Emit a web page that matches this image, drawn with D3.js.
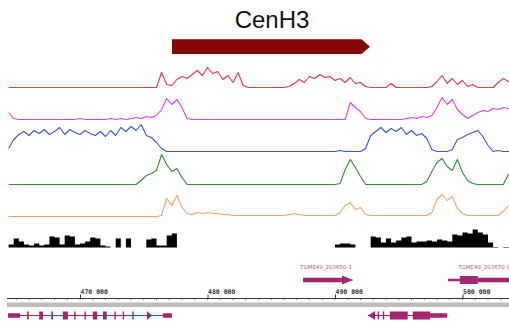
<!DOCTYPE html>
<html><head><meta charset="utf-8">
<script src="https://cdn.jsdelivr.net/npm/d3@7"></script>
<style>body{margin:0;background:#fff}svg{display:block}</style>
</head><body>
<script>
// ---- data ----
const title = "CenH3";
const binStart = 464400, binSize = 400; // genomic bins (bp)
const redSignal = [0,0,0,0,0,0,0,0,0,0,0,0,0,0,0,0,0,0,0,0,0,0,0,0,0,0,0,0,0,0,
  15,3,2,8,11,9,13,17,12,20,14,16,8,12,5,15,2,0,0,0,0,0,0,0,0,1,4,8,5,11,9,13,10,11,7,9,5,10,4,5,1,0,0,0,0,4,0,0,0,0,0,0,0,1,6,12,4,9,3,7,1,3,0,0,0,0,5,9,6,6];
const magentaSignal = [7,1,0,0,0,0,0,0,0,0,0,0,0,0,1,0,0,0,0,0,1,0,1,0,1,2,1,3,2,4,
  10,21,15,20,12,1,0,0,0,0,0,0,0,0,0,0,0,0,0,0,0,0,0,0,0,0,0,0,0,0,0,0,0,0,0,0,0,17,12,8,1,0,0,0,0,0,0,0,1,2,1,3,2,4,12,22,15,20,10,5,1,4,7,9,8,11,10,12,11,11];
const blueSignal = [3,12,17,20,16,21,18,22,17,20,24,17,22,19,17,21,18,16,20,15,21,16,24,20,25,21,27,16,14,9,
  3,0,0,0,0,0,0,0,0,0,0,0,0,0,0,0,0,0,0,0,0,0,0,0,0,0,0,0,0,0,0,0,0,0,0,1,0,0,0,0,3,16,20,24,19,23,20,24,17,21,16,18,13,2,0,0,0,2,12,14,17,19,21,15,6,0,1,0,0,0];
const greenSignal = [0,0,0,0,0,0,0,0,0,0,0,0,0,0,0,0,0,0,0,0,0,0,0,0,0,0,4,9,11,14,
  30,20,13,16,7,0,0,0,0,0,0,0,0,0,0,0,0,0,0,0,0,0,0,0,0,0,0,0,0,0,0,0,0,0,0,1,15,25,17,8,0,0,0,0,0,0,0,0,0,0,0,0,3,13,22,26,18,14,25,12,4,1,0,0,0,0,0,0,10,10];
const orangeSignal = [0,0,0,0,0,0,0,0,0,0,0,0,0,0,0,0,0,0,0,0,0,0,0,0,0,0,0,0,0,0,
  1,18,11,21,9,3,2,4,3,4,3,3,2,2,1,1,1,1,1,1,1,1,1,1,1,2,3,2,1,1,1,1,1,1,1,4,11,14,7,9,2,1,1,1,1,1,1,1,1,1,1,1,1,4,17,22,16,20,8,3,1,1,1,1,1,1,1,5,11,11];
const coverage = [3,9,6,3,2,4,2,3,11,10,3,12,11,3,4,6,10,9,2,1,0,9,0,9,0,0,0,8,9,2,
  2,12,14,0,0,0,0,0,0,0,0,0,0,0,0,0,0,0,0,0,0,0,0,0,0,0,0,0,0,0,0,0,0,0,3,4,4,3,0,0,0,11,10,5,9,5,7,10,11,5,6,6,7,6,8,7,6,13,12,15,14,18,15,13,5,0.5,0,0.5,0,0];
const cenh3Domain = [477216, 492745];
const tickValues = [470000, 480000, 490000, 500000];
const tickLabels = ["470 000", "480 000", "490 000", "500 000"];
const topGeneNames = ["TGME49_203650-1", "TGME49_203670-1"];
// gene parts: [start, end, kind]  kind: cds (tall), utr (short), arrowR, arrowL
const topGene1 = [[487500, 490550, "utr"], [490550, 491400, "arrowR"]];
const topGene2 = [[498860, 499800, "thin"], [499800, 501200, "cds"], [501200, 503800, "utr"]];
const bottomGene1 = [[464350, 465300, "utr"], [465850, 465980, "cds"], [466800, 467100, "cds"], [467750, 467880, "cds"],
  [468650, 469050, "cds"], [469550, 469660, "cds"], [470350, 470460, "cds"], [471000, 471350, "cds"], [471800, 472100, "cds"],
  [472700, 472810, "cds"], [473350, 473460, "cds"], [474100, 474210, "cds"], [475250, 475650, "arrowR"], [476500, 477200, "utr"]];
const bottomGene2 = [[492590, 493140, "arrowL"], [493350, 493460, "cds"], [493750, 493860, "cds"], [494300, 495700, "cds"],
  [496100, 497450, "cds"], [497450, 498800, "utr"]];

// ---- drawing ----
const W = 509, H = 327;
const svg = d3.select("body").append("svg").attr("width", W).attr("height", H);
const x = d3.scaleLinear().domain([470000, 500000]).range([80, 462.5]);
const binPos = redSignal.map((_, i) => binStart + i * binSize);

svg.append("text").attr("x", 272).attr("y", 28).attr("text-anchor", "middle")
  .attr("font-family", "Liberation Sans, Arial, sans-serif").attr("font-size", 24).attr("fill", "#111").text(title);

// CenH3 domain arrow bar
{
  const x0 = x(cenh3Domain[0]), x1 = x(cenh3Domain[1]), y0 = 39.3, y1 = 54;
  const tip = 8.5;
  svg.append("path").attr("fill", "#820808")
    .attr("d", `M${x0},${y0}L${x1 - tip},${y0}L${x1},${(y0 + y1) / 2}L${x1 - tip},${y1}L${x0},${y1}Z`);
}

const tracks = [
  {vals: redSignal, base: 87.5, color: "#e8363e"},
  {vals: magentaSignal, base: 119.5, color: "#df3ddf"},
  {vals: blueSignal, base: 151.5, color: "#3a58c8"},
  {vals: greenSignal, base: 184.5, color: "#2f8a3c"},
  {vals: orangeSignal, base: 216.5, color: "#f2a26a"},
];
const yAmp = d3.scaleLinear().domain([0, 32]).range([0, 32]);
tracks.forEach(t => {
  const line = d3.line().x((d, i) => x(binPos[i])).y(d => t.base - yAmp(d)).curve(d3.curveLinear);
  svg.append("path").datum(t.vals).attr("fill", "none").attr("stroke", t.color).attr("stroke-width", 1.1)
    .attr("stroke-linejoin", "round").attr("d", line);
});

// coverage area
const covBase = 247.5;
const area = d3.area().x((d, i) => x(binPos[i])).y0(covBase).y1(d => covBase - yAmp(d)).curve(d3.curveStepAfter);
svg.append("path").datum(coverage).attr("fill", "#000").attr("d", area);

const geneColor = "#a1256f";
function drawGene(parts, cy) {
  const g = svg.append("g");
  const s = d3.min(parts, p => p[0]), e = d3.max(parts, p => p[1]);
  g.append("line").attr("x1", x(s)).attr("x2", Math.min(x(e), W)).attr("y1", cy).attr("y2", cy)
    .attr("stroke", geneColor).attr("stroke-width", 1);
  parts.forEach(([a, b, k]) => {
    const xa = x(a), xb = x(b);
    if (k === "cds" || k === "utr" || k === "thin") {
      const h = k === "cds" ? 8 : (k === "utr" ? 4.5 : 2.5);
      g.append("rect").attr("x", xa).attr("y", cy - h / 2).attr("width", Math.max(1.2, xb - xa)).attr("height", h).attr("fill", geneColor);
    } else if (k === "arrowR") {
      g.append("path").attr("fill", geneColor).attr("d", `M${xa},${cy - 4.5}L${xb},${cy}L${xa},${cy + 4.5}Z`);
    } else if (k === "arrowL") {
      g.append("path").attr("fill", geneColor).attr("d", `M${xb},${cy - 4.5}L${xa},${cy}L${xb},${cy + 4.5}Z`);
    }
  });
}
drawGene(topGene1, 280);
drawGene(topGene2, 280);
drawGene(bottomGene1, 315.5);
drawGene(bottomGene2, 315.5);

const lblStyle = s => s.attr("font-family", "DejaVu Sans, sans-serif").attr("font-size", 5.5).attr("fill", "#b4568f");
svg.append("text").attr("x", x(489300)).attr("y", 269).attr("text-anchor", "middle").call(lblStyle).text(topGeneNames[0]);
svg.append("text").attr("x", x(501700)).attr("y", 269).attr("text-anchor", "middle").call(lblStyle).text(topGeneNames[1]);

// axis
const axisY = 298.5;
svg.append("line").attr("x1", 7).attr("x2", W).attr("y1", axisY).attr("y2", axisY).attr("stroke", "#333").attr("stroke-width", 1);
const minor = d3.range(465000, 504000, 1000);
svg.append("g").selectAll("line").data(minor).join("line")
  .attr("x1", d => x(d)).attr("x2", d => x(d)).attr("y1", axisY).attr("y2", axisY + 1.5).attr("stroke", "#555").attr("stroke-width", 0.8);
const axis = d3.axisTop(x).tickValues(tickValues).tickFormat((d, i) => tickLabels[i]).tickSize(4).tickSizeOuter(0);
const ag = svg.append("g").attr("transform", `translate(0,${axisY})`).call(axis);
ag.select(".domain").remove();
ag.selectAll(".tick line").attr("stroke", "#333");
ag.selectAll(".tick text").attr("text-anchor", "start").attr("dx", 0).attr("y", -5)
  .attr("font-family", "DejaVu Sans Mono, monospace").attr("font-weight", "bold").attr("font-size", 6.5).attr("fill", "#333");

// gray band
svg.append("rect").attr("x", 7).attr("y", 302.5).attr("width", W - 7).attr("height", 4.5).attr("fill", "#bdbdbd");
</script>
</body></html>
